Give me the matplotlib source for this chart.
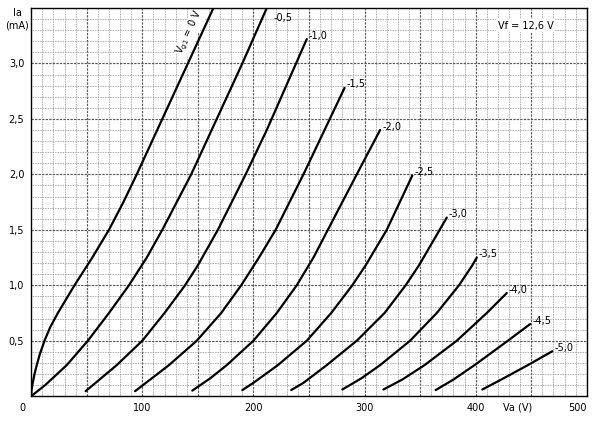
import matplotlib.pyplot as plt
from matplotlib.ticker import MultipleLocator

# anode characteristics, Va (V) vs Ia (mA), one curve per grid voltage
vg_labels = ['0', '-0,5', '-1,0', '-1,5', '-2,0', '-2,5', '-3,0', '-3,5', '-4,0', '-4,5', '-5,0']

va_0 = [0, 0.3, 1.0, 3.0, 5.0, 7.8, 12, 17, 24, 39, 55, 70, 83, 95, 118, 141, 164]
ia_0 = [0, 0.05, 0.1, 0.2, 0.28, 0.38, 0.5, 0.62, 0.75, 1.0, 1.25, 1.5, 1.75, 2.0, 2.5, 3.0, 3.5]

va_05 = [0, 12.6, 32, 51, 70, 88, 104, 118, 144, 167, 190, 212]
ia_05 = [0, 0.1, 0.28, 0.5, 0.75, 1.0, 1.25, 1.5, 2.0, 2.5, 3.0, 3.5]

va_10 = [49, 77, 100, 120, 138.5, 150, 168, 193, 212, 248]
ia_10 = [0.045, 0.28, 0.5, 0.75, 1.0, 1.18, 1.5, 2.0, 2.4, 3.22]

va_15 = [93.5, 124, 149, 171, 189, 205, 220, 245, 264, 282]
ia_15 = [0.045, 0.28, 0.5, 0.75, 1.0, 1.25, 1.5, 2.0, 2.4, 2.78]

va_20 = [145, 161, 176, 200, 221, 239, 254, 267, 293, 314]
ia_20 = [0.05, 0.16, 0.28, 0.5, 0.75, 1.0, 1.25, 1.5, 2.0, 2.4]

va_25 = [190, 200, 222, 248, 270, 289, 301, 320, 343]
ia_25 = [0.055, 0.12, 0.28, 0.5, 0.75, 1.0, 1.18, 1.5, 1.99]

va_30 = [234, 245, 266, 293, 318, 337, 349, 374]
ia_30 = [0.055, 0.12, 0.28, 0.5, 0.75, 1.0, 1.18, 1.61]

va_35 = [280, 297, 314, 341, 365, 385, 397, 401]
ia_35 = [0.06, 0.16, 0.28, 0.5, 0.75, 1.0, 1.18, 1.25]

va_40 = [317, 334, 354, 383, 410, 428]
ia_40 = [0.06, 0.15, 0.28, 0.5, 0.75, 0.93]

va_45 = [364, 380, 399, 429, 449]
ia_45 = [0.055, 0.15, 0.28, 0.5, 0.65]

va_50 = [406, 424, 447, 469]
ia_50 = [0.06, 0.155, 0.28, 0.405]

curves = [(va_0, ia_0), (va_05, ia_05), (va_10, ia_10), (va_15, ia_15),
          (va_20, ia_20), (va_25, ia_25), (va_30, ia_30), (va_35, ia_35),
          (va_40, ia_40), (va_45, ia_45), (va_50, ia_50)]

y_ticks = [0.5, 1.0, 1.5, 2.0, 2.5, 3.0]
x_ticks = [100, 200, 300, 400, 500]

fig = plt.figure(figsize=(6, 4.21), dpi=100)
ax = fig.add_axes([0.052, 0.059, 0.926, 0.922])
ax.set_xlim(0, 500)
ax.set_ylim(0, 3.5)

# graph paper grid
ax.xaxis.set_minor_locator(MultipleLocator(10))
ax.yaxis.set_minor_locator(MultipleLocator(0.1))
ax.grid(which='minor', color='#8e8e8e', lw=0.6, ls=(0, (1, 1)))
ax.grid(which='major', color='#5a5a5a', lw=0.85, ls=(0, (2, 1)))
ax.set_axisbelow(True)

major_x = list(range(50, 501, 50))
ax.set_xticks(major_x)
ax.set_xticklabels([str(v) if v in x_ticks else '' for v in major_x])
ax.set_yticks(y_ticks)
ax.set_yticklabels([f'{v:.1f}'.replace('.', ',') for v in y_ticks])
ax.tick_params(which='both', length=0, labelsize=7, pad=5)
for lab in ax.get_xticklabels():
    if lab.get_text() == '500':
        lab.set_horizontalalignment('right')
for s in ax.spines.values():
    s.set_linewidth(1.0)

for (va, ia), lab in zip(curves, vg_labels):
    ax.plot(va, ia, color='black', lw=1.6, zorder=3,
            solid_capstyle='round', solid_joinstyle='round')
    if lab == '0':
        continue
    if lab == '-0,5':
        ax.text(va[-1] + 6, ia[-1] - 0.09, lab, fontsize=7, ha='left', va='center')
    else:
        ax.annotate(lab, (va[-1], ia[-1]), xytext=(1.5, 2.5), textcoords='offset points',
                    fontsize=7, ha='left', va='center')

ax.text(143, 3.28, r'V$_{\mathrm{g1}}$ = 0 V', fontsize=7, rotation=65,
        ha='center', va='center', zorder=2,
        bbox=dict(facecolor='white', edgecolor='none', pad=0.5))
ax.text(445, 3.34, 'Vf = 12,6 V', fontsize=7, ha='center', va='center',
        bbox=dict(facecolor='white', edgecolor='none', pad=1))

fig.text(22 / 600, 1 - 408 / 421, '0', fontsize=7, ha='center', va='center')
fig.text(518 / 600, 1 - 408 / 421, 'Va (V)', fontsize=7, ha='center', va='center')
fig.text(17 / 600, 1 - 13 / 421, 'Ia', fontsize=7, ha='center', va='center')
fig.text(17 / 600, 1 - 25 / 421, '(mA)', fontsize=7, ha='center', va='center')

fig.savefig('out.png', dpi=100)
